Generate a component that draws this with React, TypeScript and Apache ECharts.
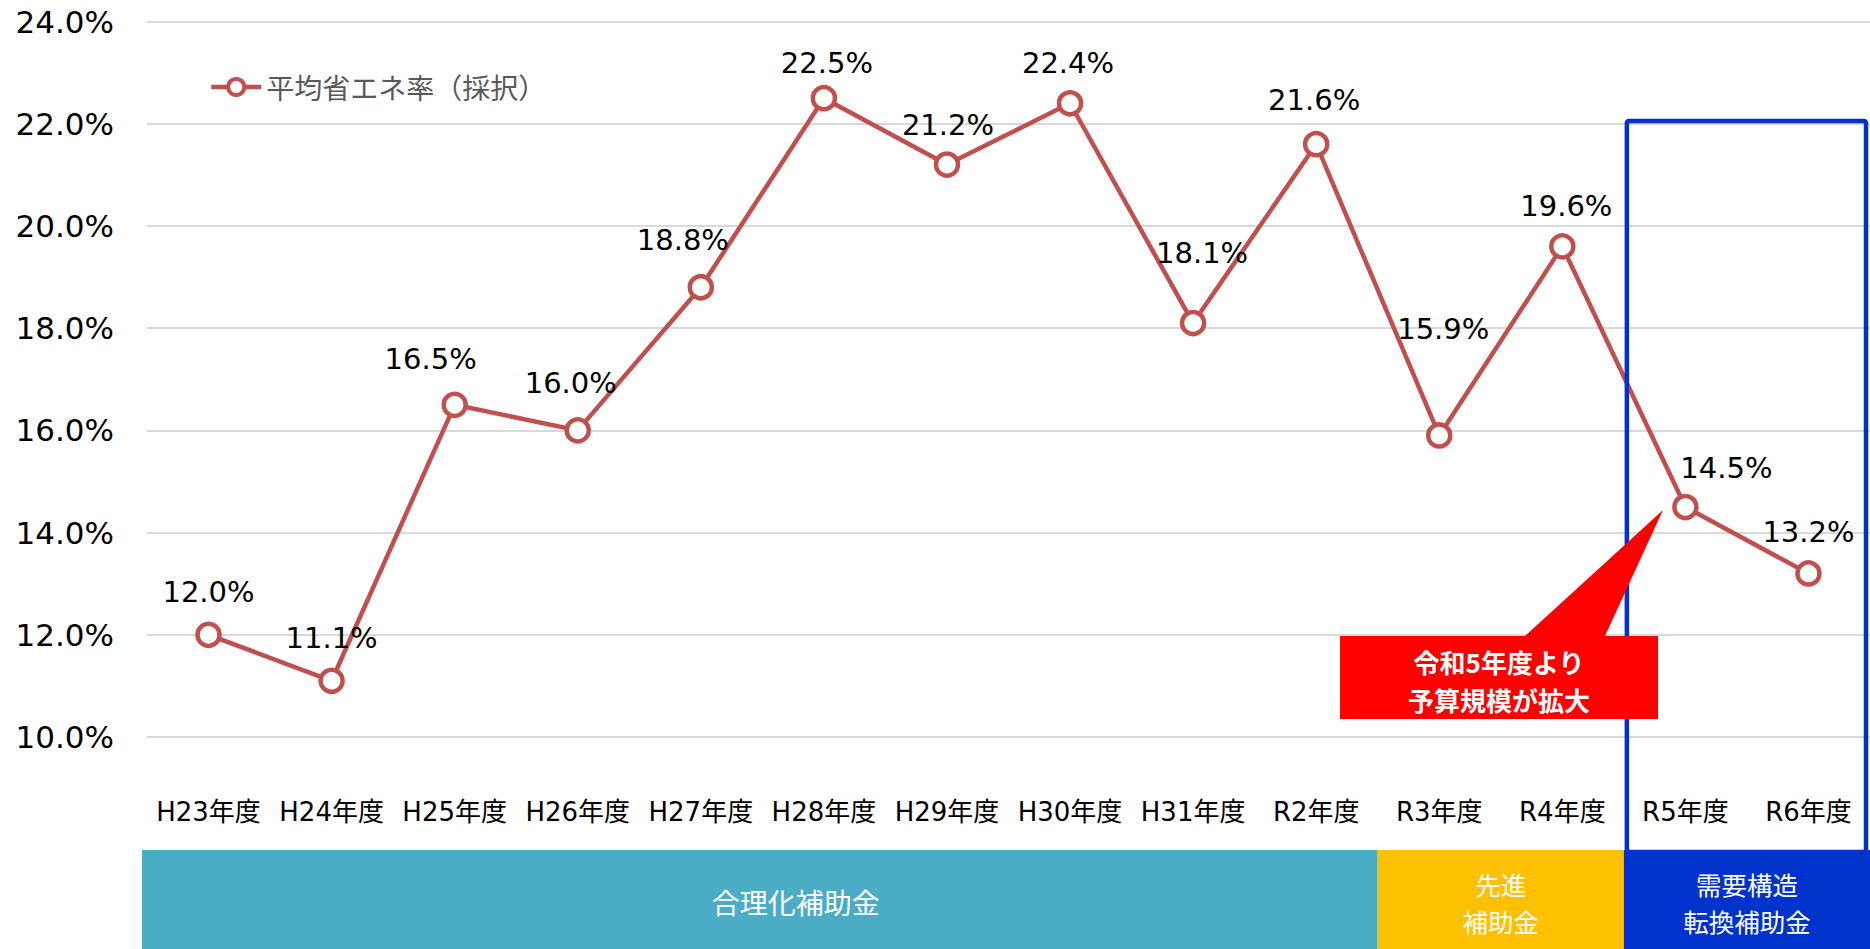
import React, { useEffect, useRef } from 'react';
import * as echarts from 'echarts';

// ---- data ----
const categories = [
  'H23年度', 'H24年度', 'H25年度', 'H26年度', 'H27年度', 'H28年度', 'H29年度',
  'H30年度', 'H31年度', 'R2年度', 'R3年度', 'R4年度', 'R5年度', 'R6年度',
];
const seriesName = '平均省エネ率（採択）';
const savingRates = [12.0, 11.1, 16.5, 16.0, 18.8, 22.5, 21.2, 22.4, 18.1, 21.6, 15.9, 19.6, 14.5, 13.2];
const yMin = 10;
const yMax = 24;
const yInterval = 2;

const programNames = [['合理化補助金'], ['先進', '補助金'], ['需要構造', '転換補助金']];
const programFirst = [0, 10, 12];
const programLast = [9, 11, 13];
const calloutLines = ['令和5年度より', '予算規模が拡大'];

// ---- styles ----
const programColors = ['#4BACC6', '#FFC000', '#0033CC'];
const programTextShift = [36, 0, 0];
const labelOffsets: [number, number][] = [
  [0, -43], [0, -43], [-24, -46], [-7, -47], [-18, -47], [3, -35], [1, -40],
  [-2, -40], [9, -70], [-2, -44], [4, -106], [4, -40], [41, -39], [0, -41],
];
const LINE_COLOR = '#C0504D';
const NUM_FONT = "'DejaVu Sans', 'Noto Sans CJK JP', sans-serif";
const CJK_FONT = "'Noto Sans CJK JP', sans-serif";
const MIX_FONT = "'DejaVu Sans', 'Noto Sans CJK JP', sans-serif";

export default function App() {
  const ref = useRef<HTMLDivElement>(null);

  useEffect(() => {
    if (!ref.current) return;
    const chart = echarts.init(ref.current, null, { renderer: 'svg' });
    const option: any = {
      animation: false,
      backgroundColor: '#ffffff',
      legend: {
        data: [seriesName],
        left: 209,
        top: 73,
        padding: 0,
        itemWidth: 50,
        itemHeight: 20,
        itemGap: 10,
        itemStyle: { borderWidth: 4, borderColor: LINE_COLOR, color: '#ffffff' },
        lineStyle: { width: 4.5, color: LINE_COLOR },
        textStyle: { fontSize: 28, color: '#595959', fontFamily: CJK_FONT },
        selectedMode: false,
      },
      grid: {
        left: 147,
        right: 0,
        top: 21.5,
        bottom: 212,
        containLabel: false,
        outerBoundsMode: 'none',
      },
      xAxis: {
        type: 'category',
        data: categories,
        boundaryGap: true,
        axisLine: { show: false },
        axisTick: { show: false },
        axisLabel: {
          interval: 0,
          margin: 62,
          fontSize: 26,
          color: '#000',
          fontFamily: MIX_FONT,
        },
      },
      yAxis: {
        type: 'value',
        min: yMin,
        max: yMax,
        interval: yInterval,
        axisLine: { show: false },
        axisTick: { show: false },
        axisLabel: {
          margin: 33,
          fontSize: 31,
          color: '#000',
          fontFamily: NUM_FONT,
          formatter: (v: number) => v.toFixed(1) + '%',
        },
        splitLine: { lineStyle: { color: '#D9D9D9', width: 2 } },
      },
      series: [
        {
          name: seriesName,
          type: 'line',
          silent: true,
          symbol: 'circle',
          symbolSize: 22,
          itemStyle: { color: '#ffffff', borderColor: LINE_COLOR, borderWidth: 4.5 },
          lineStyle: { color: LINE_COLOR, width: 4.5 },
          label: {
            show: true,
            position: 'inside',
            fontSize: 29,
            color: '#000',
            fontFamily: NUM_FONT,
            formatter: (p: any) => Number(p.value).toFixed(1) + '%',
          },
          data: savingRates.map((v, i) => ({ value: v, label: { offset: labelOffsets[i] } })),
        },
      ],
    };
    chart.setOption(option);

    const c0 = chart.convertToPixel({ xAxisIndex: 0 }, 0) as number;
    const c1 = chart.convertToPixel({ xAxisIndex: 0 }, 1) as number;
    const bw = c1 - c0;
    const leftEdge = (i: number) => c0 + (i - 0.5) * bw;
    const bandTop = 850;
    const bandBottom = 949;

    const graphics: any[] = [];
    programNames.forEach((lines, k) => {
      let x0 = leftEdge(programFirst[k]);
      const x1 = k === programNames.length - 1 ? 1870 : leftEdge(programLast[k] + 1);
      if (k === 0) x0 -= 5;
      graphics.push({
        type: 'rect',
        z: 5,
        shape: { x: x0, y: bandTop, width: x1 - x0, height: bandBottom - bandTop },
        style: { fill: programColors[k] },
      });
      const lh = 37;
      const cy = (bandTop + bandBottom) / 2 + 2;
      lines.forEach((line, j) => {
        graphics.push({
          type: 'text',
          z: 6,
          x: (x0 + x1) / 2 + programTextShift[k],
          y: cy + (j - (lines.length - 1) / 2) * lh,
          style: {
            text: line,
            fill: '#ffffff',
            fontSize: lines.length > 1 ? 25.5 : 28,
            lineHeight: 30,
            fontFamily: CJK_FONT,
            align: 'center',
            verticalAlign: 'middle',
          },
        });
      });
    });

    // Blue outline around the last program
    const boxLeft = leftEdge(programFirst[2]) + 3;
    graphics.push({
      type: 'rect',
      z: 20,
      shape: { x: boxLeft, y: 121, width: 1866 - boxLeft, height: bandTop - 121 + 2, r: 2 },
      style: { fill: 'none', stroke: programColors[2], lineWidth: 4.5 },
    });

    // Red callout
    graphics.push({
      type: 'polygon',
      z: 21,
      shape: {
        points: [
          [1340, 636], [1525, 636], [1663, 510], [1605, 636], [1658, 636], [1658, 719], [1340, 719],
        ],
      },
      style: { fill: '#FF0000' },
    });
    calloutLines.forEach((line, j) => {
      graphics.push({
        type: 'text',
        z: 22,
        x: 1499,
        y: 661 + j * 38,
        style: {
          text: line,
          fill: '#ffffff',
          fontSize: 26,
          lineHeight: 30,
          fontWeight: 'bold',
          fontFamily: CJK_FONT,
          align: 'center',
          verticalAlign: 'middle',
        },
      });
    });

    chart.setOption({ graphic: graphics });

    return () => chart.dispose();
  }, []);

  return (
    <div
      ref={ref}
      style={{ position: 'fixed', left: 0, top: 0, width: 1870, height: 949, background: '#fff' }}
    />
  );
}
